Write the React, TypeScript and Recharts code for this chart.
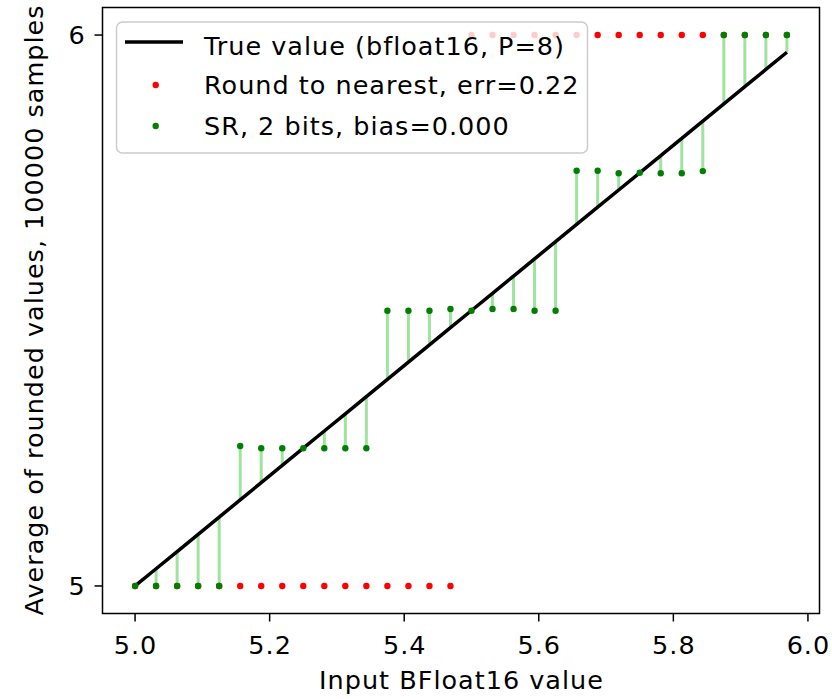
import React from 'react';
import { ComposedChart, Line, Scatter, XAxis, YAxis, ReferenceLine, ReferenceArea } from 'recharts';

// Input bfloat16 values (x) between 5 and 6
const inputValues = [
  5.0, 5.03125, 5.0625, 5.09375, 5.125, 5.15625, 5.1875, 5.21875,
  5.25, 5.28125, 5.3125, 5.34375, 5.375, 5.40625, 5.4375, 5.46875,
  5.5, 5.53125, 5.5625, 5.59375, 5.625, 5.65625, 5.6875, 5.71875,
  5.75, 5.78125, 5.8125, 5.84375, 5.875, 5.90625, 5.9375, 5.96875,
];
// True value line (bfloat16, P=8)
const trueValues = [
  5.0, 5.03125, 5.0625, 5.09375, 5.125, 5.15625, 5.1875, 5.21875,
  5.25, 5.28125, 5.3125, 5.34375, 5.375, 5.40625, 5.4375, 5.46875,
  5.5, 5.53125, 5.5625, 5.59375, 5.625, 5.65625, 5.6875, 5.71875,
  5.75, 5.78125, 5.8125, 5.84375, 5.875, 5.90625, 5.9375, 5.96875,
];
// Round to nearest
const roundNearest = [
  5, 5, 5, 5, 5, 5, 5, 5, 5, 5, 5, 5, 5, 5, 5, 5,
  6, 6, 6, 6, 6, 6, 6, 6, 6, 6, 6, 6, 6, 6, 6, 6,
];
// SR, 2 bits: average of rounded values, 100000 samples
const srAverages = [
  5.0, 5.0, 5.0, 5.0, 5.0, 5.254, 5.25, 5.25,
  5.25, 5.25, 5.25, 5.25, 5.4996, 5.4996, 5.4996, 5.5027,
  5.4996, 5.5027, 5.5027, 5.4996, 5.4996, 5.7537, 5.7537, 5.749,
  5.75, 5.749, 5.749, 5.753, 6.0, 6.0, 6.0, 6.0,
];
const xTicks = [5.0, 5.2, 5.4, 5.6, 5.8, 6.0];
const yTicks = [5, 6];
const legendLabels = ['True value (bfloat16, P=8)', 'Round to nearest, err=0.22', 'SR, 2 bits, bias=0.000'];

const X_DOMAIN: [number, number] = [4.9516, 6.0172];
const Y_DOMAIN: [number, number] = [4.95, 6.05];
const FONT = 'DejaVu Sans';
const FS = 25.5;
const LS = 1;

const rows = inputValues.map((x, i) => ({ x, trueV: trueValues[i], rtn: roundNearest[i], sr: srAverages[i] }));

const XTick = (props: any) => (
  <text x={props.x + 0.5} y={props.y + 28.5} textAnchor="middle" fontFamily={FONT} fontSize={FS} letterSpacing={LS} fill="#000">
    {Number(props.payload.value).toFixed(1)}
  </text>
);
const YTick = (props: any) => (
  <text x={props.x + 1} y={props.y + 9.3} textAnchor="end" fontFamily={FONT} fontSize={FS} letterSpacing={LS} fill="#000">
    {props.payload.value}
  </text>
);

const dot = (color: string) => (props: any) => <circle cx={props.cx} cy={props.cy} r={3.2} fill={color} />;

export default function App() {
  return (
    <div style={{ position: 'absolute', left: 0, top: 0, width: 832, height: 699 }}>
      <ComposedChart width={832} height={699} data={rows} margin={{ top: 7.5, right: 12.5, bottom: 0, left: 0 }}>
        <XAxis
          dataKey="x"
          type="number"
          domain={X_DOMAIN}
          ticks={xTicks}
          interval={0}
          allowDataOverflow
          height={85.5}
          tickSize={8}
          tickMargin={4}
          axisLine={false}
          stroke="#000"
          tickLine={{ stroke: '#000', strokeWidth: 1.5 }}
          tick={<XTick />}
          label={{
            content: () => (
              <text x={461.5} y={689.3} textAnchor="middle" fontFamily={FONT} fontSize={FS} letterSpacing={LS} fill="#000">
                Input BFloat16 value
              </text>
            ),
          }}
        />
        <YAxis
          type="number"
          domain={Y_DOMAIN}
          ticks={yTicks}
          interval={0}
          allowDataOverflow
          width={102.5}
          tickSize={8}
          tickMargin={9.7}
          axisLine={false}
          stroke="#000"
          tickLine={{ stroke: '#000', strokeWidth: 1.5 }}
          tick={<YTick />}
          label={{
            content: () => (
              <text
                x={43.3}
                y={310}
                transform="rotate(-90, 43.3, 310)"
                textAnchor="middle"
                fontFamily={FONT}
                fontSize={FS}
                letterSpacing={LS}
                fill="#000"
              >
                Average of rounded values, 100000 samples
              </text>
            ),
          }}
        />
        <ReferenceArea
          x1={X_DOMAIN[0]}
          x2={X_DOMAIN[1]}
          y1={Y_DOMAIN[0]}
          y2={Y_DOMAIN[1]}
          fill="none"
          stroke="#000"
          strokeWidth={1.5}
          ifOverflow="visible"
        />
        {rows.map((r, i) => (
          <ReferenceLine
            key={i}
            segment={[{ x: r.x, y: r.trueV }, { x: r.x, y: r.sr }]}
            stroke="#9fe39f"
            strokeWidth={3}
            ifOverflow="visible"
          />
        ))}
        <Line dataKey="trueV" type="linear" dot={false} stroke="#000" strokeWidth={3.5} isAnimationActive={false} />
        <Scatter dataKey="rtn" shape={dot('#ff0000')} isAnimationActive={false} />
        <Scatter dataKey="sr" shape={dot('#008000')} isAnimationActive={false} />
      </ComposedChart>
      <svg width={832} height={699} style={{ position: 'absolute', left: 0, top: 0, pointerEvents: 'none' }}>
        <rect x={116.5} y={22} width={471} height={131} rx={6} ry={6} fill="rgba(255,255,255,0.8)" stroke="#cccccc" strokeWidth={1.5} />
        <line x1={125} y1={42} x2={183} y2={42} stroke="#000" strokeWidth={3.5} />
        <circle cx={155.7} cy={85} r={3.2} fill="#ff0000" />
        <circle cx={155.7} cy={126} r={3.2} fill="#008000" />
        {legendLabels.map((t, i) => (
          <text key={t} x={204} y={[54.5, 94, 135][i]} fontFamily={FONT} fontSize={FS} letterSpacing={LS} fill="#000">
            {t}
          </text>
        ))}
      </svg>
    </div>
  );
}
